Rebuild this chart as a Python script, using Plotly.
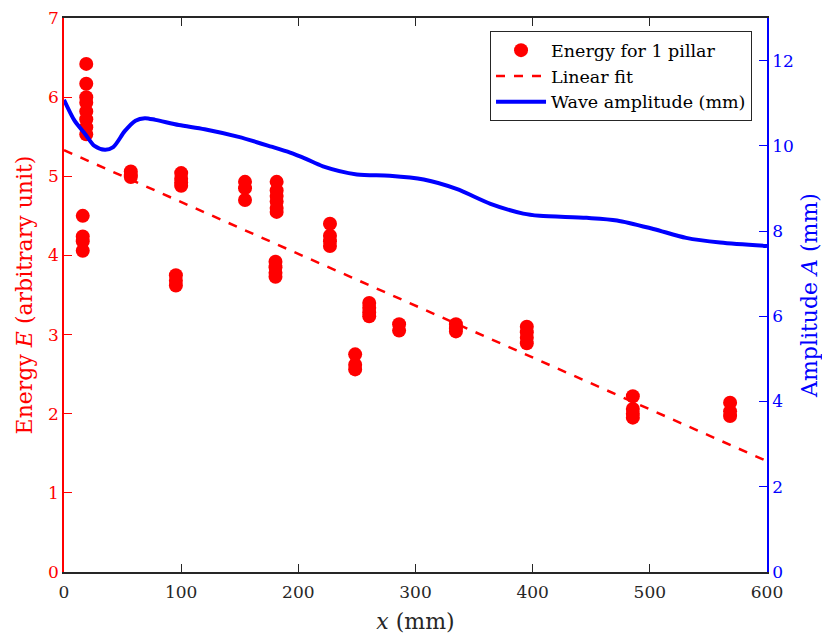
import plotly.graph_objects as go

# Energy measurements (x in mm, E arbitrary unit)
energy_x = [16, 16, 16, 16,
            19, 19, 19, 19, 19, 19, 19, 19,
            57, 57, 57,
            95.5, 95.5, 95.5,
            100, 100, 100, 100,
            154.5, 154.5, 154.5,
            181.5, 181.5, 181.5, 181.5, 181.5, 181.5,
            180.5, 180.5, 180.5, 180.5,
            227, 227, 227, 227,
            248.5, 248.5, 248.5,
            260.5, 260.5, 260.5, 260.5,
            286, 286,
            334.5, 334.5, 334.5,
            395, 395, 395, 395,
            485.5, 485.5, 485.5, 485.5,
            568.5, 568.5, 568.5]
energy_val = [4.50, 4.24, 4.18, 4.06,
              6.42, 6.17, 6.00, 5.93, 5.82, 5.72, 5.62, 5.53,
              5.06, 5.02, 4.99,
              3.75, 3.68, 3.62,
              5.04, 4.97, 4.92, 4.88,
              4.93, 4.85, 4.70,
              4.93, 4.82, 4.75, 4.68, 4.60, 4.55,
              3.92, 3.85, 3.78, 3.73,
              4.40, 4.25, 4.18, 4.12,
              2.75, 2.62, 2.56,
              3.40, 3.34, 3.28, 3.23,
              3.13, 3.05,
              3.13, 3.08, 3.04,
              3.10, 3.03, 2.96, 2.89,
              2.22, 2.06, 2.00, 1.95,
              2.14, 2.03, 1.97]

# Linear fit endpoints
fit_x = [0, 600]
fit_val = [5.33, 1.40]

# Wave amplitude curve (mm)
amp_x = [0, 9, 18, 26, 35, 42, 52, 61, 69, 78, 98, 120, 149, 177, 193, 206,
         221, 250, 278, 307, 335, 364, 392, 406, 446, 472, 503, 531, 560, 600]
amp_val = [11.08, 10.59, 10.28, 10.00, 9.91, 9.97, 10.35, 10.59, 10.65, 10.61,
           10.49, 10.39, 10.21, 9.98, 9.84, 9.70, 9.52, 9.33, 9.30, 9.21, 8.99,
           8.64, 8.41, 8.36, 8.31, 8.25, 8.05, 7.84, 7.73, 7.65]

x_ticks = [0, 100, 200, 300, 400, 500, 600]
left_ticks = [0, 1, 2, 3, 4, 5, 6, 7]
right_ticks = [0, 2, 4, 6, 8, 10, 12]

FONT = "DejaVu Serif"
RED = "#ff0000"
BLUE = "#0000ff"
DARK = "#262626"

fig = go.Figure()
fig.add_trace(go.Scatter(x=energy_x, y=energy_val, mode="markers",
                         name="Energy for 1 pillar",
                         marker=dict(color=RED, size=14, line=dict(width=0))))
fig.add_trace(go.Scatter(x=fit_x, y=fit_val, mode="lines", name="Linear fit",
                         line=dict(color=RED, width=2.5, dash="dash")))
fig.add_trace(go.Scatter(x=amp_x, y=amp_val, mode="lines", name="Wave amplitude (mm)",
                         yaxis="y2",
                         line=dict(color=BLUE, width=4, shape="spline", smoothing=0.8)))

# page body has an 8px margin, so the figure is 8px smaller than the window
fig.update_layout(
    width=822, height=629,
    margin=dict(l=56, r=63, t=10, b=65),
    paper_bgcolor="white", plot_bgcolor="white",
    font=dict(family=FONT, size=17, color=DARK),
    showlegend=True,
    legend=dict(x=0.9787, y=0.976, xanchor="right", yanchor="top",
                bgcolor="white", bordercolor=DARK, borderwidth=1,
                font=dict(family=FONT, size=17.5, color="black"),
                tracegroupgap=0, itemwidth=50),
    xaxis=dict(range=[0, 600], tickvals=x_ticks, ticks="inside", ticklen=8,
               tickcolor=DARK, showline=True, linecolor=DARK, linewidth=1.5,
               mirror="ticks", showgrid=False, zeroline=False, automargin=False,
               ticklabelstandoff=4, ticklabeloverflow="allow",
               tickfont=dict(family=FONT, size=17, color=DARK),
               title=dict(text="<i>x</i> (mm)", font=dict(family=FONT, size=22, color=DARK),
                          standoff=12)),
    yaxis=dict(range=[0, 7], tickvals=left_ticks, ticks="inside", ticklen=8,
               tickcolor=RED, showline=True, linecolor=RED, linewidth=1.5,
               showgrid=False, zeroline=False, automargin=False,
               ticklabeloverflow="allow",
               tickfont=dict(family=FONT, size=17, color=RED),
               title=dict(text="Energy <i>E</i> (arbitrary unit)",
                          font=dict(family=FONT, size=22, color=RED), standoff=9)),
    yaxis2=dict(range=[0, 13], tickvals=right_ticks, ticks="inside", ticklen=8,
                tickcolor=BLUE, showline=True, linecolor=BLUE, linewidth=1.5,
                overlaying="y", side="right", showgrid=False, zeroline=False,
                automargin=False, ticklabeloverflow="allow",
                tickfont=dict(family=FONT, size=17, color=BLUE),
                title=dict(text="Amplitude <i>A</i> (mm)",
                           font=dict(family=FONT, size=22, color=BLUE), standoff=9)),
)

fig.write_html("out.html")
